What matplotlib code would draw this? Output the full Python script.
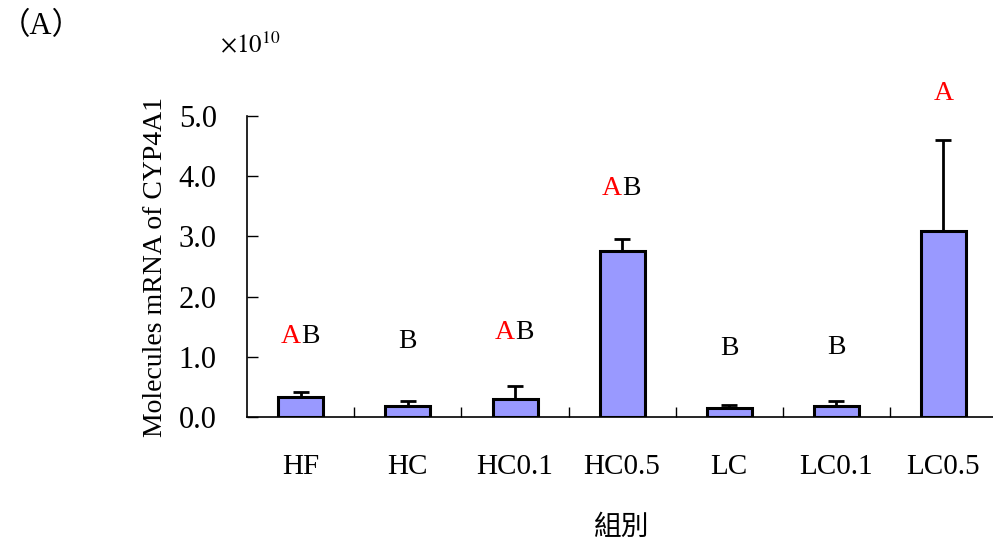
import matplotlib
matplotlib.use("Agg")
import matplotlib.pyplot as plt
import numpy as np

# data (x1e10)
groups = ["HF", "HC", "HC0.1", "HC0.5", "LC", "LC0.1", "LC0.5"]
means = [0.33, 0.18, 0.30, 2.76, 0.15, 0.18, 3.09]
errs = [0.08, 0.08, 0.22, 0.20, 0.04, 0.08, 1.51]
red_part = ["A", "", "A", "A", "", "", "A"]
black_part = ["B", "B", "B", "B", "B", "B", ""]
letter_y = [1.33, 1.26, 1.41, 3.79, 1.13, 1.16, 5.38]

plt.rcParams['font.family'] = ['Liberation Serif', 'Noto Sans CJK TC']
plt.rcParams['mathtext.fontset'] = 'stix'

fig = plt.figure(figsize=(9.93, 5.45), dpi=100)
ax = fig.add_axes([0.249, 0.235, 0.755, 0.552])

x = np.arange(len(groups)) + 0.5
ax.bar(x, means, width=0.42, color='#9999FF', edgecolor='black', linewidth=2.2, zorder=2)
ax.errorbar(x, means, yerr=[np.zeros(len(errs)), errs], fmt='none', ecolor='black',
            elinewidth=2, capsize=6, capthick=2, zorder=1)

# significance letters, red A + black B
fs_letter = 20
for xi, yi, r, b in zip(x, letter_y, red_part, black_part):
    if r and b:
        ax.text(xi, yi, r, color='red', fontsize=fs_letter, ha='right', va='center')
        ax.text(xi, yi, b, color='black', fontsize=fs_letter, ha='left', va='center')
    elif r:
        ax.text(xi, yi, r, color='red', fontsize=fs_letter, ha='center', va='center')
    else:
        ax.text(xi, yi, b, color='black', fontsize=fs_letter, ha='center', va='center')

ax.set_xlim(0, 7)
ax.set_ylim(0, 5)
ax.set_yticks([0, 1, 2, 3, 4, 5])
ax.set_yticklabels([f"{v:.1f}" for v in range(6)], fontsize=22)
ax.set_xticks(np.arange(1, 7))
ax.set_xticklabels([])
ax.tick_params(axis='x', direction='in', length=7, width=1)
ax.tick_params(axis='y', direction='in', length=8, width=1, pad=22)
for xi, g in zip(x, groups):
    ax.text(xi, -0.83, g, ha='center', va='center', fontsize=21)

for s in ['top', 'right']:
    ax.spines[s].set_visible(False)
ax.spines['left'].set_linewidth(1.2)
ax.spines['bottom'].set_linewidth(1.2)

ax.set_ylabel("Molecules mRNA of CYP4A1", fontsize=20, labelpad=8)
fig.text(0.626, 0.033, "組別", fontsize=20, ha='center', va='center',
         family=['Noto Sans CJK TC'])
fig.text(0.0, 0.952, "（A）", fontsize=22, ha='left', va='center')
fig.text(0.222, 0.918, r"$\times10^{10}$", fontsize=18, ha='left', va='center')

fig.savefig("out.png", dpi=100)
